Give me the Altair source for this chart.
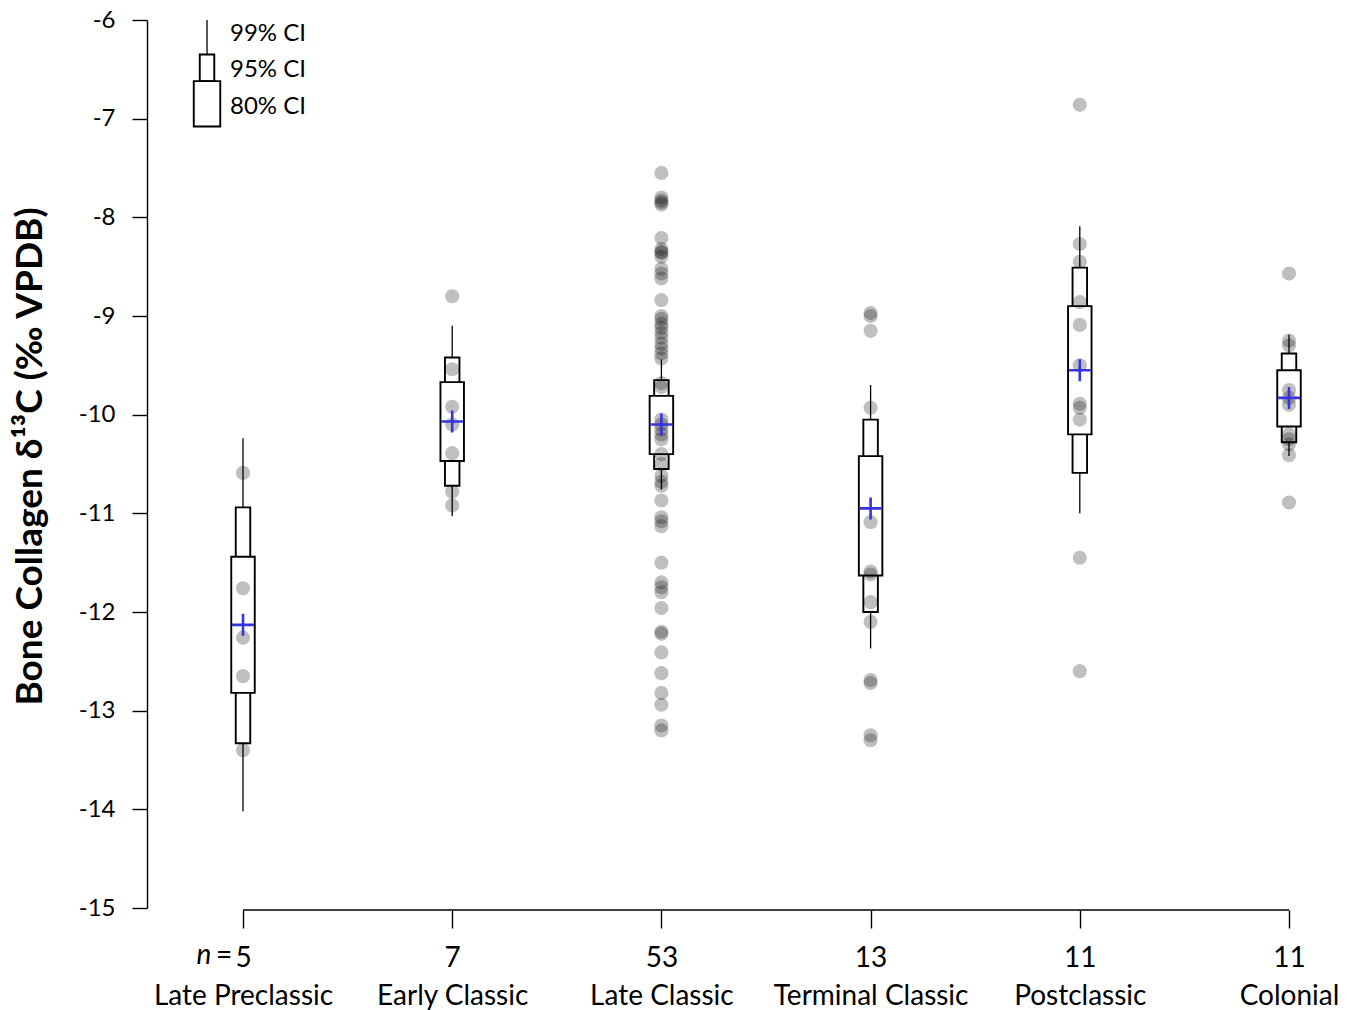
import altair as alt
import pandas as pd

periods = ["Late Preclassic", "Early Classic", "Late Classic", "Terminal Classic", "Postclassic", "Colonial"]
counts = ["5", "7", "53", "13", "11", "11"]

late_preclassic = [-10.59, -11.76, -12.26, -12.65, -13.40]
early_classic = [-8.80, -9.54, -9.92, -10.10, -10.39, -10.78, -10.92]
late_classic = [-7.55, -7.80, -7.83, -7.85, -7.87, -8.21, -8.32, -8.35, -8.36, -8.40,
                -8.52, -8.57, -8.62, -8.84, -9.00, -9.03, -9.08, -9.12, -9.17, -9.22,
                -9.28, -9.33, -9.38, -9.43,
                -9.68, -9.72, -10.05, -10.10, -10.15, -10.20, -10.25, -10.40, -10.50,
                -10.62, -10.68, -10.72, -10.87, -11.04, -11.08, -11.13,
                -11.50, -11.70, -11.75, -11.80, -11.96, -12.20, -12.22, -12.41, -12.62,
                -12.82, -12.94, -13.15, -13.20]
terminal_classic = [-8.97, -9.00, -9.15, -9.93, -11.09, -11.59, -11.62, -11.90, -12.10,
                    -12.69, -12.72, -13.25, -13.30]
postclassic = [-6.86, -8.27, -8.45, -8.86, -9.09, -9.50, -9.89, -9.93, -10.05, -11.45, -12.60]
colonial = [-8.57, -9.25, -9.30, -9.75, -9.83, -9.90, -10.20, -10.25, -10.30, -10.41, -10.89]

means = [-12.13, -10.07, -10.10, -10.95, -9.55, -9.83]
ci99_hi = [-10.24, -9.10, -9.44, -9.70, -8.09, -9.19]
ci99_lo = [-14.02, -11.03, -10.76, -12.37, -11.00, -10.42]
ci95_hi = [-10.94, -9.42, -9.65, -10.05, -8.51, -9.38]
ci95_lo = [-13.33, -10.72, -10.55, -12.00, -10.59, -10.28]
ci80_hi = [-11.44, -9.67, -9.81, -10.42, -8.90, -9.55]
ci80_lo = [-12.82, -10.47, -10.40, -11.63, -10.20, -10.12]

legend_labels = ["99% CI", "95% CI", "80% CI"]

FONT = "Lato"
groups = [late_preclassic, early_classic, late_classic, terminal_classic, postclassic, colonial]

pts = pd.DataFrame([
    {"idx": i + 1, "val": v} for i, g in enumerate(groups) for v in g
])
summ = pd.DataFrame({
    "idx": list(range(1, 7)), "mean": means,
    "lo99": ci99_lo, "hi99": ci99_hi,
    "lo95": ci95_lo, "hi95": ci95_hi,
    "lo80": ci80_lo, "hi80": ci80_hi,
})

# custom key in the top-left corner (data coordinates)
leg_x = 0.828
leg_box = pd.DataFrame({"idx": [leg_x], "w_top": [-6.0], "w_bot": [-6.35],
                        "b95_bot": [-6.62], "b80_bot": [-7.08]})
leg_txt = pd.DataFrame({"idx": [0.938] * 3, "val": [-6.142, -6.507, -6.882],
                        "label": legend_labels})

label_expr = " : ".join(
    f"datum.value == {i + 1} ? ['{c}', '{p}']" for i, (c, p) in enumerate(zip(counts, periods))
) + " : ''"

xscale = alt.Scale(domain=[0.5411, 6.2438], nice=False, zero=False, padding=0)
yscale = alt.Scale(domain=[-15, -6], nice=False, zero=False, padding=0)
xaxis = alt.Axis(values=[1, 2, 3, 4, 5, 6], labelExpr=label_expr, domain=False, grid=False,
                 tickSize=18, tickWidth=1.4, tickColor="black", offset=2,
                 labelFont=FONT, labelFontSize=28, labelColor="black", labelPadding=16,
                 labelLineHeight=38, labelBaseline="top", labelLimit=0, title=None)
ytitle = "Bone Collagen δ¹³C (‰ VPDB)"
yaxis = alt.Axis(values=list(range(-15, -5)), labelExpr="'' + datum.value", grid=False,
                 tickSize=15, tickWidth=1.4, tickColor="black", domainColor="black",
                 domainWidth=1.4, labelFont=FONT, labelFontSize=24, labelColor="black",
                 labelPadding=17, title=ytitle, titleFont=FONT, titleFontSize=37,
                 titleFontWeight="bold", titleColor="black", titleX=-117, titleY=436,
                 titleAngle=270, titleAlign="center", titleBaseline="middle")

X = lambda f: alt.X(f"{f}:Q", scale=xscale, axis=xaxis)
Y = lambda f: alt.Y(f"{f}:Q", scale=yscale, axis=yaxis)

whisk = alt.Chart(summ).mark_rule(color="black", strokeWidth=1.3).encode(
    x=X("idx"), y=Y("lo99"), y2="hi99")
b95 = alt.Chart(summ).mark_bar(size=14.5, fill="white", stroke="black", strokeWidth=1.9).encode(
    x=X("idx"), y=Y("lo95"), y2="hi95")
b80 = alt.Chart(summ).mark_bar(size=23.5, fill="white", stroke="black", strokeWidth=1.9).encode(
    x=X("idx"), y=Y("lo80"), y2="hi80")
dots = alt.Chart(pts).mark_circle(size=201, color="black", opacity=0.25).encode(
    x=X("idx"), y=Y("val"))
cross = alt.Chart(summ).mark_point(shape="M-1,0H1M0,-1V1", size=484, filled=False,
                                   stroke="#3535e0", strokeWidth=2.6, opacity=1).encode(
    x=X("idx"), y=Y("mean"))

l_wh = alt.Chart(leg_box).mark_rule(color="black", strokeWidth=1.3).encode(
    x=X("idx"), y=Y("w_top"), y2="w_bot")
l_95 = alt.Chart(leg_box).mark_bar(size=14.5, fill="white", stroke="black", strokeWidth=1.9).encode(
    x=X("idx"), y=Y("w_bot"), y2="b95_bot")
l_80 = alt.Chart(leg_box).mark_bar(size=26.5, fill="white", stroke="black", strokeWidth=1.9).encode(
    x=X("idx"), y=Y("b95_bot"), y2="b80_bot")
l_tx = alt.Chart(leg_txt).mark_text(align="left", baseline="middle", font=FONT, fontSize=24,
                                    color="black").encode(
    x=X("idx"), y=Y("val"), text="label:N")

# x axis line spanning the first to the last period
xline = alt.Chart(summ).mark_rule(color="black", strokeWidth=1.4).encode(
    x=alt.X("min(idx):Q", scale=xscale, axis=xaxis), x2="max(idx):Q", y=alt.value(890))

nlab = alt.Chart(summ.head(1)).mark_text(text="n", font=FONT, fontSize=28, fontStyle="italic",
                                         align="center", baseline="middle", dx=-39,
                                         color="black").encode(
    x=X("idx"), y=alt.value(936))
eqlab = alt.Chart(summ.head(1)).mark_text(text="=", font=FONT, fontSize=28, align="center",
                                          baseline="middle", dx=-19, color="black").encode(
    x=X("idx"), y=alt.value(936))

chart = alt.layer(whisk, b95, b80, dots, cross, l_wh, l_95, l_80, l_tx, xline, nlab, eqlab).properties(
    width=1193, height=888,
    autosize=alt.AutoSizeParams(type="none"),
    padding={"left": 147, "top": 20, "right": 13, "bottom": 102},
).configure(background="white").configure_view(stroke=None)

chart.save("out.html", embed_options={"renderer": "svg", "actions": False})
